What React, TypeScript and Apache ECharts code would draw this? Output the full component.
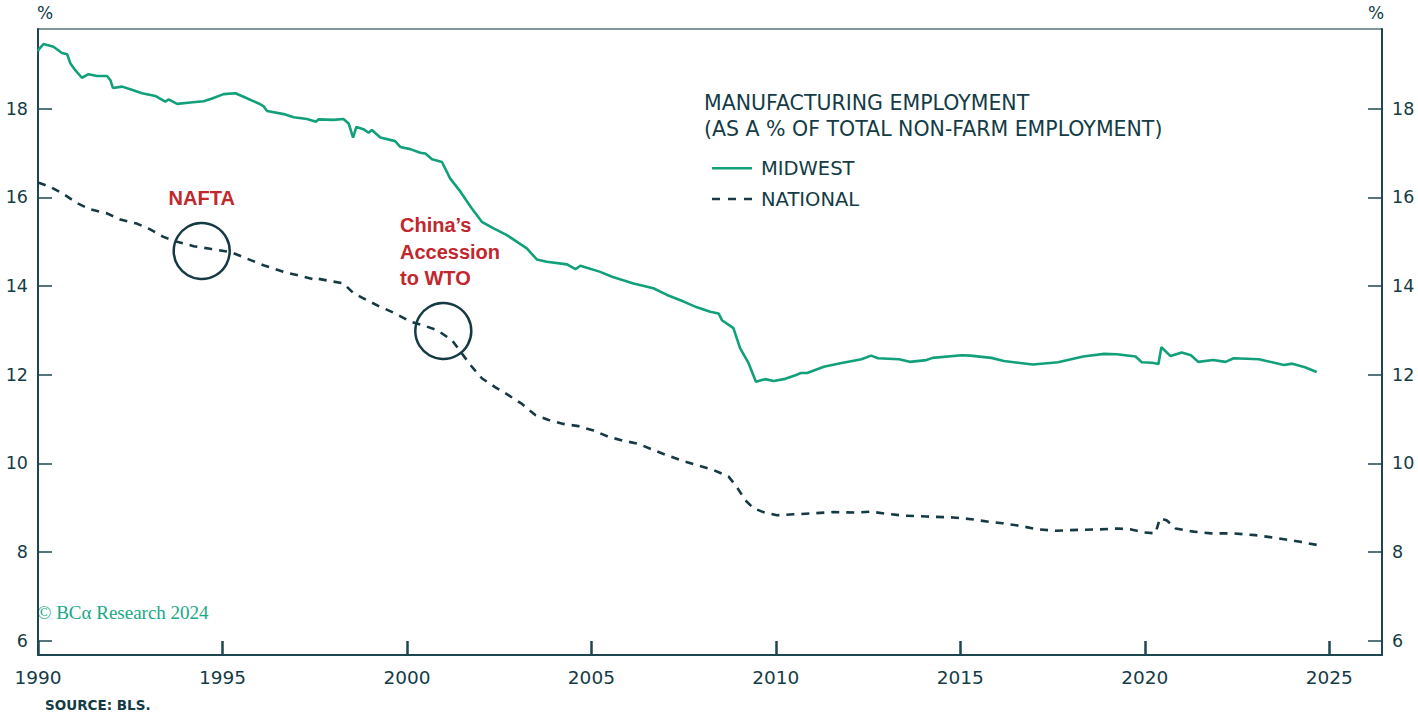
import React, { useEffect, useRef } from "react";
import * as echarts from "echarts";

const midwestYears = [
  1990.0, 1990.02, 1990.15, 1990.42, 1990.65, 1990.79, 1990.88, 1991.01, 1991.19, 1991.37,
  1991.6, 1991.87, 1991.96, 1992.03, 1992.28, 1992.5, 1992.82, 1993.18, 1993.45, 1993.54,
  1993.77, 1994.13, 1994.49, 1994.72, 1995.03, 1995.35, 1995.57, 1995.98, 1996.11, 1996.21,
  1996.66, 1996.93, 1997.29, 1997.54, 1997.6, 1998.01, 1998.28, 1998.42, 1998.54, 1998.63,
  1998.82, 1998.96, 1999.05, 1999.28, 1999.68, 1999.82, 2000.09, 2000.36, 2000.5, 2000.68,
  2000.95, 2001.17, 2001.45, 2001.76, 2002.03, 2002.35, 2002.71, 2003.25, 2003.52, 2003.79,
  2004.34, 2004.57, 2004.7, 2005.24, 2005.56, 2006.14, 2006.68, 2007.05, 2007.5, 2007.86,
  2008.22, 2008.45, 2008.54, 2008.85, 2009.03, 2009.26, 2009.46, 2009.71, 2009.94, 2010.22,
  2010.51, 2010.68, 2010.85, 2011.3, 2011.75, 2012.32, 2012.58, 2012.77, 2013.34, 2013.63,
  2014.08, 2014.25, 2015.04, 2015.27, 2015.84, 2016.18, 2016.97, 2017.65, 2018.33, 2018.9,
  2019.24, 2019.75, 2019.92, 2020.2, 2020.37, 2020.45, 2020.7, 2021.0, 2021.25, 2021.45,
  2021.85, 2022.19, 2022.41, 2023.09, 2023.77, 2024.0, 2024.34, 2024.66,
];
const midwestValues = [
  19.3, 19.34, 19.46, 19.4, 19.26, 19.23, 19.02, 18.87, 18.7, 18.78,
  18.74, 18.74, 18.65, 18.47, 18.5, 18.44, 18.35, 18.29, 18.16, 18.21,
  18.11, 18.14, 18.17, 18.23, 18.33, 18.35, 18.27, 18.12, 18.06, 17.95,
  17.88, 17.81, 17.77, 17.71, 17.76, 17.75, 17.77, 17.67, 17.35, 17.59,
  17.54, 17.46, 17.52, 17.35, 17.27, 17.14, 17.09, 17.01, 16.99, 16.86,
  16.8, 16.43, 16.13, 15.75, 15.45, 15.3, 15.15, 14.85, 14.6, 14.55,
  14.49, 14.38, 14.46, 14.32, 14.21, 14.06, 13.95, 13.8, 13.65, 13.52,
  13.42, 13.38, 13.23, 13.05, 12.6, 12.26, 11.84, 11.9, 11.86, 11.9,
  11.98, 12.04, 12.04, 12.18, 12.26, 12.35, 12.43, 12.37, 12.35, 12.29,
  12.33, 12.38, 12.44, 12.43, 12.38, 12.31, 12.23, 12.28, 12.41, 12.47,
  12.46, 12.41, 12.28, 12.27, 12.24, 12.62, 12.42, 12.5, 12.44, 12.29,
  12.33, 12.29, 12.37, 12.35, 12.22, 12.25, 12.17, 12.06,
];

const nationalYears = [
  1990.0, 1990.06, 1990.33, 1990.69, 1991.06, 1991.42, 1991.87, 1992.23, 1992.68, 1993.04,
  1993.4, 1993.77, 1994.22, 1994.67, 1995.21, 1995.57, 1996.11, 1996.66, 1997.2, 1997.52,
  1997.56, 1998.01, 1998.28, 1998.55, 1998.92, 1999.28, 1999.64, 2000.09, 2000.45, 2000.81,
  2001.22, 2001.49, 2001.72, 2002.03, 2002.39, 2002.75, 2003.12, 2003.48, 2003.84, 2004.24,
  2004.65, 2005.06, 2005.46, 2005.87, 2006.28, 2006.68, 2007.09, 2007.5, 2007.9, 2008.31,
  2008.72, 2008.94, 2009.17, 2009.39, 2009.66, 2010.03, 2010.48, 2010.96, 2011.56, 2012.17,
  2012.59, 2013.01, 2013.49, 2014.09, 2014.81, 2015.3, 2015.78, 2016.14, 2016.62, 2017.1,
  2017.59, 2018.19, 2018.79, 2019.27, 2019.63, 2019.99, 2020.29, 2020.41, 2020.6, 2020.84,
  2021.32, 2021.8, 2022.4, 2023.0, 2023.61, 2024.21, 2024.66,
];
const nationalValues = [
  16.33, 16.32, 16.24, 16.08, 15.87, 15.73, 15.64, 15.5, 15.41, 15.28,
  15.11, 15.0, 14.9, 14.84, 14.77, 14.65, 14.47, 14.32, 14.21, 14.14,
  14.17, 14.1, 14.06, 13.84, 13.68, 13.53, 13.4, 13.2, 13.11, 13.01,
  12.78, 12.48, 12.22, 11.92, 11.72, 11.54, 11.34, 11.09, 10.98, 10.89,
  10.84, 10.74, 10.6, 10.51, 10.44, 10.3, 10.17, 10.05, 9.95, 9.85,
  9.7, 9.47, 9.17, 8.99, 8.9, 8.83, 8.85, 8.87, 8.9, 8.89,
  8.91, 8.86, 8.82, 8.8, 8.78, 8.74, 8.68, 8.65, 8.59, 8.51,
  8.48, 8.5, 8.51, 8.53, 8.51, 8.44, 8.42, 8.76, 8.71, 8.53,
  8.46, 8.42, 8.42, 8.38, 8.31, 8.23, 8.16,
];

const xTickValues = [1990, 1995, 2000, 2005, 2010, 2015, 2020, 2025];
const yTickValues = [6, 8, 10, 12, 14, 16, 18];

const seriesNames = ["MIDWEST", "NATIONAL"];
const titleLines = ["MANUFACTURING EMPLOYMENT", "(AS A % OF TOTAL NON-FARM EMPLOYMENT)"];
const annotationNafta = "NAFTA";
const annotationWto = "China\u2019s\nAccession\nto WTO";
const sourceText = "SOURCE: BLS.";
const copyrightText = "\u00A9 BC\u03B1 Research 2024";

const FONT = "'DejaVu Sans', sans-serif";
const TEXT = "#143c46";
const AXIS = "#1d4650";
const GREEN = "#12a07a";
const DARK = "#163a43";
const RED = "#c1272d";

export default function App() {
  const ref = useRef<HTMLDivElement>(null);

  useEffect(() => {
    if (!ref.current) return;
    const chart = echarts.init(ref.current, null, { renderer: "svg" });

    const midwestData = midwestYears.map((y, i) => [y, midwestValues[i]]);
    const nationalData = nationalYears.map((y, i) => [y, nationalValues[i]]);

    const yAxisCommon = (position: "left" | "right") => ({
      type: "value",
      position,
      min: 5.676,
      max: 19.8,
      axisLine: { show: true, lineStyle: { color: AXIS, width: 2 } },
      axisTick: {
        show: true,
        inside: true,
        length: 14,
        customValues: yTickValues,
        lineStyle: { color: AXIS, width: 1.5 },
      },
      axisLabel: {
        customValues: yTickValues,
        margin: 10,
        fontSize: 17.5,
        fontFamily: FONT,
        color: TEXT,
        formatter: (v: number) => String(Math.round(v)),
      },
      splitLine: { show: false },
    });

    const legendTextStyle = { fontFamily: FONT, fontSize: 19.5, fill: TEXT };

    chart.setOption({
      animation: false,
      backgroundColor: "#ffffff",
      grid: {
        left: 38,
        right: 36,
        top: 29,
        bottom: 61,
        show: true,
        borderColor: "#5a747b",
        borderWidth: 1.5,
      },
      title: {
        text: titleLines.join("\n"),
        left: 704,
        top: 90,
        padding: 0,
        textStyle: {
          fontFamily: FONT,
          fontSize: 20.5,
          fontWeight: "normal",
          color: TEXT,
          lineHeight: 26,
        },
      },
      xAxis: {
        type: "value",
        min: 1990,
        max: 2026.43,
        axisLine: { show: true, onZero: false, lineStyle: { color: AXIS, width: 2 } },
        axisTick: {
          show: true,
          inside: true,
          length: 14,
          customValues: xTickValues,
          lineStyle: { color: AXIS, width: 2.5 },
        },
        axisLabel: {
          customValues: xTickValues,
          margin: 13,
          fontSize: 18.5,
          fontFamily: FONT,
          color: TEXT,
          formatter: (v: number) => String(Math.round(v)),
        },
        splitLine: { show: false },
      },
      yAxis: [yAxisCommon("left"), yAxisCommon("right")],
      series: [
        {
          name: seriesNames[0],
          type: "line",
          data: midwestData,
          showSymbol: false,
          symbol: "none",
          lineStyle: { color: GREEN, width: 2.6 },
          itemStyle: { color: GREEN },
          z: 3,
        },
        {
          name: seriesNames[1],
          type: "line",
          data: nationalData,
          showSymbol: false,
          symbol: "none",
          lineStyle: { color: DARK, width: 2.6, type: [8, 7] },
          itemStyle: { color: DARK },
          z: 2,
        },
      ],
      graphic: [
        {
          type: "line",
          shape: { x1: 712, y1: 168.3, x2: 752, y2: 168.3 },
          style: { stroke: GREEN, lineWidth: 2.6 },
        },
        {
          type: "text",
          x: 761,
          y: 168.3,
          style: { ...legendTextStyle, text: seriesNames[0], verticalAlign: "middle" },
        },
        {
          type: "line",
          shape: { x1: 712, y1: 199, x2: 752, y2: 199 },
          style: { stroke: DARK, lineWidth: 2.6, lineDash: [8, 8] },
        },
        {
          type: "text",
          x: 761,
          y: 199,
          style: { ...legendTextStyle, text: seriesNames[1], verticalAlign: "middle" },
        },
        {
          type: "text",
          left: 37,
          top: 4,
          style: { text: "%", fontFamily: FONT, fontSize: 17, fill: TEXT },
        },
        {
          type: "text",
          left: 1368,
          top: 4,
          style: { text: "%", fontFamily: FONT, fontSize: 17, fill: TEXT },
        },
        {
          type: "text",
          x: 201.7,
          y: 198,
          style: {
            text: annotationNafta,
            fontFamily: "'Liberation Sans', Arial, sans-serif",
            fontWeight: "bold",
            fontSize: 20,
            fill: RED,
            align: "center",
            verticalAlign: "middle",
          },
        },
        {
          type: "text",
          x: 400,
          y: 212,
          style: {
            text: annotationWto,
            fontFamily: "'Liberation Sans', Arial, sans-serif",
            fontWeight: "bold",
            fontSize: 20,
            lineHeight: 26.5,
            fill: RED,
            align: "left",
            verticalAlign: "top",
          },
        },
        {
          type: "circle",
          shape: { cx: 201.7, cy: 251, r: 28 },
          style: { fill: "none", stroke: DARK, lineWidth: 2.5 },
          z: 10,
        },
        {
          type: "circle",
          shape: { cx: 443.3, cy: 331, r: 28 },
          style: { fill: "none", stroke: DARK, lineWidth: 2.5 },
          z: 10,
        },
        {
          type: "text",
          left: 37,
          top: 603,
          style: {
            text: copyrightText,
            fontFamily: "'Liberation Serif', 'DejaVu Serif', serif",
            fontSize: 19,
            fill: "#1aa886",
          },
        },
        {
          type: "text",
          left: 45,
          top: 698,
          style: {
            text: sourceText,
            fontFamily: FONT,
            fontWeight: "bold",
            fontSize: 13.5,
            fill: TEXT,
          },
        },
      ],
    });

    return () => {
      chart.dispose();
    };
  }, []);

  return (
    <div
      ref={ref}
      style={{ position: "fixed", left: 0, top: 0, width: 1418, height: 716 }}
    />
  );
}
